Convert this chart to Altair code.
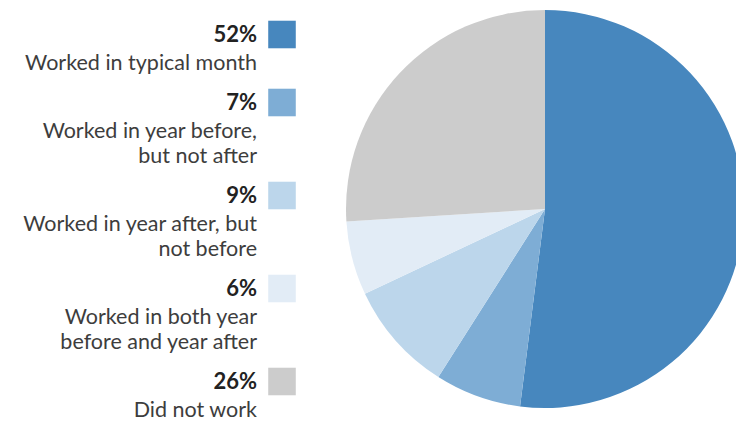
import altair as alt
import pandas as pd

categories = [
    "Worked in typical month",
    "Worked in year before, but not after",
    "Worked in year after, but not before",
    "Worked in both year before and year after",
    "Did not work",
]
values = [52, 7, 9, 6, 26]
pct_labels = ["52%", "7%", "9%", "6%", "26%"]
label_lines = [
    ["Worked in typical month"],
    ["Worked in year before,", "but not after"],
    ["Worked in year after, but", "not before"],
    ["Worked in both year", "before and year after"],
    ["Did not work"],
]
colors = ["#4787be", "#7eadd5", "#bcd6eb", "#e2ecf6", "#cccccc"]

# layout in line units (1 unit = one text line)
FIRST = 1.66
PCT_TO_LABEL = 1.12
LINE = 1.0
GAP = 1.6
TOTAL = 421 / 25

pie_df = pd.DataFrame({"category": categories, "value": values, "idx": list(range(len(categories)))})

leg_rows = []
line_rows = []
pos = FIRST
for i, cat in enumerate(categories):
    leg_rows.append({"category": cat, "pct": pct_labels[i], "py": pos})
    ly = pos + PCT_TO_LABEL
    for j, t in enumerate(label_lines[i]):
        line_rows.append({"category": cat, "text": t, "ly": ly + j * LINE})
    pos = ly + (len(label_lines[i]) - 1) * LINE + GAP
leg_df = pd.DataFrame(leg_rows)
line_df = pd.DataFrame(line_rows)

color_scale = alt.Scale(domain=categories, range=colors)
yscale = alt.Scale(domain=[0, TOTAL], reverse=True, nice=False, zero=False)

pie = alt.Chart(pie_df).mark_arc(radius=199).encode(
    theta=alt.Theta("value:Q", stack=True),
    color=alt.Color("category:N", scale=color_scale, legend=None),
    order=alt.Order("idx:Q"),
    x=alt.value(545),
    y=alt.value(209),
)

pct_text = alt.Chart(leg_df).mark_text(
    align="right", baseline="alphabetic", font="Lato", fontSize=22,
    fontWeight="bold", color="#222222"
).encode(
    x=alt.value(257),
    y=alt.Y("py:Q", scale=yscale, axis=None),
    text="pct:N",
)

swatch = alt.Chart(leg_df).mark_square(size=760, opacity=1, yOffset=-7).encode(
    x=alt.value(282),
    y=alt.Y("py:Q", scale=yscale, axis=None),
    color=alt.Color("category:N", scale=color_scale, legend=None),
)

lbl_text = alt.Chart(line_df).mark_text(
    align="right", baseline="alphabetic", font="Lato", fontSize=21.5,
    color="#3d3d3d"
).encode(
    x=alt.value(257),
    y=alt.Y("ly:Q", scale=yscale, axis=None),
    text="text:N",
)

chart = alt.layer(pie, swatch, pct_text, lbl_text).properties(
    width=736, height=421,
    autosize=alt.AutoSizeParams(type="none"),
    padding=0,
    background="white",
).configure_view(stroke=None)

chart.save("out.html", embed_options={"renderer": "svg", "actions": False})
